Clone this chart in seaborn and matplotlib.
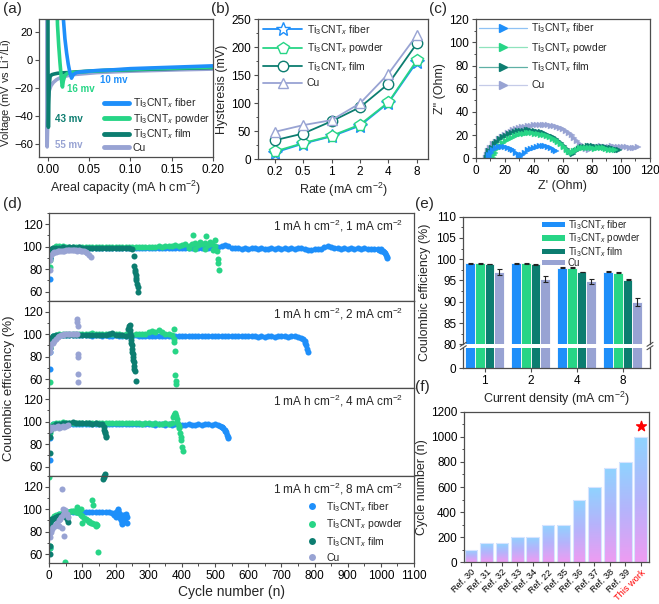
import numpy as np
import pandas as pd
import seaborn as sns
import matplotlib.pyplot as plt
from matplotlib.lines import Line2D
from matplotlib.patches import Patch
from matplotlib.ticker import AutoMinorLocator, FormatStrFormatter
from matplotlib.colors import LinearSegmentedColormap

# ---------------- data ----------------
LABELS = [r'Ti$_3$CNT$_x$ fiber', r'Ti$_3$CNT$_x$ powder', r'Ti$_3$CNT$_x$ film', 'Cu']

# (a) voltage profiles
a_fiber_x = [0.0175, 0.019, 0.021, 0.023, 0.025, 0.027, 0.0285, 0.029, 0.030, 0.032, 0.035, 0.04,
             0.05, 0.06, 0.08, 0.10, 0.12, 0.14, 0.16, 0.18, 0.20]
a_fiber_y = [60, 30, 15, 5, -3, -9, -12, -13, -11.5, -10, -9, -8.5, -8, -7.5, -7, -6.2, -5.8, -5.4, -5, -4.6, -4.2]
a_powder_x = [0.0105, 0.012, 0.0135, 0.015, 0.0165, 0.0175, 0.018, 0.019, 0.021, 0.024, 0.03, 0.04,
              0.06, 0.08, 0.10, 0.12, 0.14, 0.16, 0.18, 0.20]
a_powder_y = [60, 25, 10, -2, -12, -18, -19.3, -15, -11, -9.5, -9, -8.5, -7.8, -7.2, -6.8, -6.3, -6, -5.7, -5.4, -5]
a_film_x = [0.0005, 0.0005, 0.0007, 0.001, 0.0015, 0.002, 0.003, 0.005, 0.008, 0.012, 0.018, 0.025,
            0.035, 0.05, 0.07, 0.10, 0.13, 0.16, 0.20]
a_film_y = [60, 0, -30, -48, -30, -18, -12, -10.5, -10, -9.5, -9.2, -9, -8.5, -8, -7.5, -7, -6.5, -6, -5.5]
a_cu_x = [-0.0008, -0.0008, -0.0005, 0.0, 0.0005, 0.001, 0.002, 0.004, 0.007, 0.011, 0.016, 0.022,
          0.03, 0.04, 0.06, 0.08, 0.10, 0.13, 0.16, 0.20]
a_cu_y = [60, -55, -62, -50, -35, -27, -22, -18.5, -16, -14, -12.5, -11.5, -10.5, -10, -9, -8.5, -8, -7.5, -7, -6.5]

# (b) hysteresis vs rate
b_rates = ['0.2', '0.5', '1', '2', '4', '8']
b_fiber = [12, 28, 41, 60, 101, 174]
b_powder = [14, 29, 42, 62, 102, 177]
b_film = [34, 46, 68, 93, 135, 207]
b_cu = [49, 61, 70, 100, 153, 222]

# (c) Nyquist plots
c_fiber_x = [9, 9.5, 10.5, 12, 14, 16, 18, 20, 22, 24, 26, 28, 29.5, 30.8, 32, 34, 36, 38, 40, 42, 44, 46,
             48, 50, 52, 54, 55.5]
c_fiber_y = [1, 3, 5, 7, 8.5, 9.5, 10, 9.8, 9.2, 8.3, 7, 5, 3, 1.5, 3, 5, 6.8, 8.2, 9.2, 10, 10.5, 10.5,
             10.2, 9.5, 8.5, 7.5, 6.5]
c_powder_x = [12, 12.5, 13.5, 15, 17, 19, 21, 23, 25, 27, 29, 31, 33, 35, 37, 39, 41, 43, 45, 47, 49, 51, 53,
              55, 57, 59, 61, 63, 64.5, 66, 68, 70, 72, 74, 76, 78, 80, 82, 84, 86, 88, 90, 92, 94, 96]
c_powder_y = [0.5, 2.5, 5, 8, 11, 13, 15, 16.5, 17.8, 19, 20, 20.7, 21.2, 21.5, 21.6, 21.6, 21.4, 21, 20.5,
              19.8, 19, 18, 16.8, 15.5, 14, 12, 10, 7.5, 5.5, 4.5, 6, 7.5, 8.5, 9, 9.3, 9, 8.5, 8.2, 8.5, 9,
              8.7, 8, 7.5, 7.5, 7.2]
c_film_x = [8, 8.5, 9.5, 11, 13, 15, 17, 19, 21, 23, 25, 27, 29, 31, 33, 35, 37, 39, 41, 43, 45, 47, 49, 51,
            53, 55, 57, 59, 61, 63, 65, 67, 69, 71, 73, 75, 77, 79, 81, 83, 85, 87, 89, 91, 93, 95, 97, 99]
c_film_y = [0.5, 3, 6, 9, 12, 14.5, 16.5, 18, 19.5, 20.8, 21.8, 22.6, 23.2, 23.6, 23.9, 24, 24, 23.8, 23.5,
            23, 22.3, 21.5, 20.5, 19.3, 18, 16.5, 14.8, 12.8, 10.5, 8, 5.5, 4, 6, 8, 9.5, 10, 10.3, 10.5,
            10.3, 10, 10, 9.8, 9.5, 9, 8.5, 8, 7.5, 7]
c_cu_x = [7, 7.5, 8.5, 10, 12, 14, 16, 18, 20, 22, 24, 26, 28, 30, 32, 34, 36, 38, 40, 42, 44, 46, 48, 50,
          52, 54, 56, 58, 60, 62, 64, 66, 68, 70, 72, 74, 76, 78, 80, 82, 84, 86, 88, 90, 92, 94, 96, 98,
          100, 102, 104, 106, 108, 110, 112]
c_cu_y = [0.5, 3, 6, 9, 12, 14.5, 16.5, 18.5, 20, 21.5, 23, 24.2, 25.2, 26, 26.8, 27.4, 27.9, 28.3, 28.6,
          28.8, 28.9, 28.9, 28.8, 28.5, 28.1, 27.6, 27, 26, 25, 23.5, 22, 20, 17.5, 15, 12, 9.5, 8, 7.5,
          8.5, 9.5, 10, 10.2, 10, 9.8, 10, 10.2, 9.8, 9.5, 9.8, 10, 9.5, 9.2, 9, 9.3, 9.5]

# (d) coulombic efficiency vs cycle, panel 1: 1 mA cm-2
d1_fiber_x = [1, 2, 4, 6] + list(range(10, 1021, 10)) + [995, 1000, 1005, 1012, 1016, 1020]
d1_fiber_y = [71, 90, 95, 97,
              97.5, 98.0, 98.3, 98.5, 98.6, 98.7, 98.8, 98.8, 98.9, 98.9,
              99.0, 98.9, 99.0, 98.8, 99.0, 98.9, 99.1, 98.9, 99.0, 98.8,
              98.9, 99.0, 98.8, 98.7, 98.9, 99.0, 98.8, 98.9, 98.7, 98.8,
              98.9, 98.7, 98.8, 99.0, 98.6, 98.8, 98.7, 98.9, 98.6, 98.8,
              98.7, 98.9, 98.5, 98.8, 98.6, 98.7, 98.9, 98.5, 98.7, 98.6,
              99.5, 100.8, 101.5, 100.2, 99.0, 98.4, 98.6, 98.3, 98.5, 98.2,
              98.4, 98.6, 98.1, 98.5, 98.3, 97.8, 98.4, 98.2, 98.5, 98.3,
              98.4, 98.1, 98.5, 98.2, 98.4, 98.6, 98.1, 97.4, 96.8, 97.9,
              98.3, 98.1, 99.5, 100.5, 100.0, 98.6, 98.4, 98.2, 98.5, 98.3,
              98.4, 98.2, 98.5, 98.3, 98.4, 98.1, 98.3, 98.0, 97.8, 97.5,
              95.5, 91.0,
              97.0, 96.5, 96.0, 94.0, 92.5, 89.5]
d1_powder_x = [1, 2, 3, 5, 7] + list(range(10, 501, 10)) + [420, 440, 455, 470, 485, 495, 432, 474, 500,
                                                           505, 508, 510, 512]
d1_powder_y = [82, 88, 92, 95, 97,
               99.0, 100.5, 101.0, 100.2, 99.8, 99.5, 99.7, 99.4, 99.6, 99.5,
               99.5, 99.6, 99.4, 99.7, 99.5, 99.6, 99.4, 99.5, 99.6, 99.3,
               99.5, 99.4, 99.6, 99.5, 99.3, 99.6, 99.5, 99.8, 99.4, 99.6,
               99.7, 99.5, 100.2, 99.8, 100.5, 101.0, 100.4, 101.5, 100.8, 101.2,
               102.0, 101.0, 102.5, 103.0, 101.5, 102.2, 103.5, 101.8, 102.5, 101.0,
               98.5, 97.5, 104.0, 98.0, 104.5, 97.0, 110.5, 109.5, 105.5, 96, 89, 85, 79]
d1_film_x = [1, 2, 4, 6] + list(range(10, 251, 10)) + [254, 256, 258, 259, 260, 262, 263, 265, 267, 269]
d1_film_y = [90, 93, 96, 97.5,
             98.5, 99.0, 99.2, 99.3, 99.2, 99.4, 99.3, 99.2, 99.3, 99.1,
             99.2, 99.0, 99.1, 98.9, 99.0, 98.8, 98.9, 98.7, 98.8, 98.6,
             98.7, 98.5, 98.4, 98.6, 98.2,
             92, 83, 79, 77, 75, 72, 70, 67, 64, 60]
d1_cu_x = [1, 2, 3] + list(range(5, 126, 5))
d1_cu_y = [79, 88, 92,
           93.0, 94.0, 94.8, 95.3, 95.7, 96.0, 96.2, 96.4, 96.5, 96.6, 96.6, 96.7, 96.7,
           96.6, 96.7, 96.6, 96.5, 96.6, 96.4, 96.2, 95.8, 95.0, 94.0, 92.5, 91.0]

# panel 2: 2 mA cm-2
d2_fiber_x = [1, 2, 3, 5] + list(range(10, 771, 10)) + [765, 772, 775, 778, 780]
d2_fiber_y = [69, 84, 92, 96,
              98.5, 98.8, 99.0, 99.0, 99.1, 99.0, 99.0, 98.9, 99.0, 98.9,
              99.0, 98.9, 98.8, 99.0, 98.9, 98.8, 98.9, 98.7, 98.8, 98.9,
              98.7, 98.8, 98.6, 98.8, 98.7, 98.9, 98.6, 98.8, 98.7, 98.6,
              98.8, 98.6, 98.7, 98.5, 98.7, 98.6, 98.4, 98.7, 98.5, 98.6,
              98.5, 98.3, 98.6, 98.4, 98.5, 98.2, 98.4, 98.5, 98.3, 98.4,
              98.2, 98.4, 98.3, 98.1, 98.3, 98.2, 98.0, 98.3, 98.1, 98.2,
              98.0, 98.2, 97.9, 98.1, 97.6, 98.0, 98.1, 97.8, 98.2, 98.0,
              98.1, 97.9, 98.3, 98.0, 97.6, 96.5, 94.0,
              95.5, 92, 90, 87, 84]
d2_powder_x = [1, 3, 5] + list(range(10, 371, 10)) + [375, 376, 377, 378, 380, 382, 383]
d2_powder_y = [57, 88, 95,
               98.5, 99.5, 99.8, 100.0, 99.9, 100.0, 99.8, 99.9, 100.0, 99.7,
               99.9, 100.0, 101.2, 99.8, 99.9, 99.7, 100.0, 99.8, 99.9, 99.7,
               99.8, 99.6, 99.9, 99.7, 99.5, 100.2, 99.8, 99.9, 100.5, 101.5,
               103.0, 102.0, 103.5, 101.5, 100.5, 100.0, 99.5,
               105, 96, 93, 85, 64, 58, 56]
d2_film_x = [1, 2, 4] + list(range(10, 231, 10)) + [238, 240, 242, 243, 244, 245, 246, 247, 248, 249, 250,
                                                   251, 252, 253, 254, 255, 256, 258, 260]
d2_film_y = [88, 94, 97,
             98.5, 99.0, 99.2, 99.3, 99.4, 99.3, 99.5, 99.4, 99.3, 99.5,
             99.4, 99.3, 99.2, 99.5, 99.3, 99.4, 99.2, 100.5, 101.0, 99.5,
             99.2, 99.0, 98.8,
             105, 107, 108, 104, 101, 98, 95, 92, 90, 87, 84, 82, 80, 77, 75, 72, 69, 67, 58]
d2_cu_x = [1, 2, 3] + list(range(5, 86, 5)) + [84, 85, 86, 86, 87, 88, 88]
d2_cu_y = [84, 88, 90,
           91.5, 92.5, 94.0, 96.0, 97.5, 98.5, 99.0, 99.5, 100.0, 100.3, 100.0, 100.2, 100.0,
           100.4, 100.1, 100.2, 100.0,
           113.5, 110.5, 107.0, 82.5, 79.5, 64.5, 57.5]

# panel 3: 4 mA cm-2
d3_fiber_x = [1, 2, 4] + list(range(10, 531, 10)) + [515, 520, 525, 530, 533, 536, 538, 540]
d3_fiber_y = [66, 85, 95,
              97.5, 97.8, 98.0, 98.0, 98.1, 98.0, 98.2, 98.0, 98.1, 97.9,
              98.0, 97.9, 98.1, 97.8, 98.0, 97.9, 97.8, 98.0, 97.7, 97.9,
              97.8, 97.6, 97.9, 97.7, 97.8, 97.5, 97.7, 97.6, 97.8, 97.5,
              97.6, 97.4, 97.7, 97.5, 97.3, 97.6, 97.4, 97.5, 97.2, 97.4,
              97.3, 97.5, 97.2, 97.4, 97.6, 97.3, 97.5, 97.7, 97.4, 97.6,
              96.8, 95.0, 91.5,
              96.5, 95.5, 94.0, 92.5, 90.5, 88.5, 86.5, 85.0]
d3_powder_x = [1, 2, 4] + list(range(10, 371, 10)) + [374, 376, 378, 380, 382, 384, 386, 388, 390, 392,
                                                     394, 396, 398, 400, 402]
d3_powder_y = [90, 93, 96,
               97.5, 98.5, 99.0, 99.3, 99.0, 99.2, 98.9, 99.1, 98.8, 99.0,
               98.8, 98.9, 98.7, 98.9, 98.6, 98.8, 98.7, 98.9, 98.6, 98.8,
               98.7, 98.5, 98.8, 98.6, 98.4, 98.7, 98.5, 98.3, 98.6, 98.4,
               98.2, 98.5, 98.3, 98.0, 98.4, 97.8, 98.6,
               104, 106, 108, 107, 105, 102, 100, 98, 96, 94, 90, 86, 84, 77, 74]
d3_film_x = [1, 2, 3] + list(range(10, 161, 10)) + [164, 166, 167, 168, 170, 171]
d3_film_y = [72, 86, 92,
             96.5, 97.5, 98.0, 98.5, 98.8, 99.0, 99.5, 99.2, 98.8, 99.0,
             98.5, 98.8, 98.3, 98.6, 98.2, 97.5,
             95, 93, 91, 90, 87, 86]
d3_cu_x = [1, 2, 3] + list(range(5, 56, 5))
d3_cu_y = [93, 95, 94, 94.0, 95.5, 94.5, 95.0, 96.0, 94.5, 95.5, 96.5, 95.0, 96.0, 97.0]

# panel 4: 8 mA cm-2
d4_fiber_x = [1, 2, 3] + list(range(10, 231, 10)) + [196, 200, 203, 206, 208, 210, 212, 214, 216, 218, 220,
                                                    222, 225, 228, 230, 233, 235]
d4_fiber_y = [65, 80, 88,
              92, 94, 95.5, 96.5, 97, 97.5, 97.5, 97.8, 97.6, 97.8,
              97.5, 97.8, 97.4, 97.6, 97.3, 97.5, 97.2, 97.4, 97.0, 97.3,
              96.5, 95.0, 94.0,
              95, 93, 97, 99, 100.5, 96, 92, 95, 90, 88, 86.5, 93, 95, 91, 96, 93, 88]
d4_powder_x = [1, 2, 3, 4] + list(range(5, 146, 5)) + [0, 48, 83, 95, 100, 120, 130, 133, 140, 147]
d4_powder_y = [65, 67, 82, 90,
               91, 92.5, 93.5, 94.5, 95.0, 95.5, 96.0, 96.5, 96.8, 97.0,
               97.5, 97.8, 98.0, 98.2, 98.0, 97.8, 97.5, 96.5, 95.0, 94.0,
               92.5, 91.0, 90.0, 88.5, 87.5, 88.0, 87.0, 86.5, 86.0,
               129, 53, 102, 100, 88, 89, 108, 104, 85, 62]
d4_film_x = [1, 1, 2, 3] + list(range(5, 58, 4))
d4_film_y = [60, 67, 88, 90, 90.5, 91.0, 92.0, 92.5, 93.0, 93.5, 94.0, 93.0, 94.5, 95.0, 94.0, 93.0, 91.0, 88.5]
d4_film_out_x = [162, 164, 166, 167]
d4_film_out_y = [127, 128.5, 130, 131.5]
d4_cu_x = [1, 2] + list(range(4, 57, 4)) + [30, 38, 38, 40, 45]
d4_cu_y = [75, 79, 80, 82, 84, 85, 87, 88, 90, 91, 93, 95, 97, 99.5, 96, 93,
           85, 118, 83, 100, 76]

d_notes = [r'1 mA h cm$^{-2}$, 1 mA cm$^{-2}$', r'1 mA h cm$^{-2}$, 2 mA cm$^{-2}$',
           r'1 mA h cm$^{-2}$, 4 mA cm$^{-2}$', r'1 mA h cm$^{-2}$, 8 mA cm$^{-2}$']

# (e) average CE
e_density = ['1', '2', '4', '8']
e_fiber = [99.0, 99.0, 98.0, 97.1]
e_powder = [99.0, 99.0, 98.0, 96.8]
e_film = [98.9, 98.8, 97.0, 95.2]
e_cu = [97.0, 95.4, 94.8, 90.0]
e_fiber_err = [0.1, 0.1, 0.1, 0.1]
e_powder_err = [0.1, 0.1, 0.1, 0.1]
e_film_err = [0.05, 0.1, 0.05, 0.1]
e_cu_err = [0.8, 0.7, 0.6, 0.9]

# (f) comparison
f_refs = ['Ref. 30', 'Ref. 31', 'Ref. 32', 'Ref. 33', 'Ref. 34', 'Ref. 22', 'Ref. 35', 'Ref. 36',
          'Ref. 37', 'Ref. 38', 'Ref. 39', 'This work']
f_cycles = [100, 150, 150, 200, 200, 300, 300, 500, 600, 750, 800, 1000]

# ---------------- style ----------------
C_FIBER = '#1e8ffa'
C_POWDER = '#27d586'
C_FILM = '#0c7d70'
C_CU = '#98a3d3'
COLORS = [C_FIBER, C_POWDER, C_FILM, C_CU]
LIGHT = ['#8fc2f5', '#8fe3bd', '#5fb0a5', '#c5cbe8']

sns.set_theme(style='ticks')
plt.rcParams.update({
    'font.family': ['Liberation Sans', 'DejaVu Sans'],
    'mathtext.fontset': 'custom',
    'mathtext.rm': 'Liberation Sans',
    'mathtext.it': 'Liberation Sans:italic',
    'mathtext.bf': 'Liberation Sans:bold',
    'axes.edgecolor': '#4d4d4d',
    'axes.linewidth': 0.9,
    'axes.labelsize': 9,
    'axes.labelpad': 2,
    'xtick.labelsize': 8.5,
    'ytick.labelsize': 8.5,
    'xtick.color': '#4d4d4d',
    'ytick.color': '#4d4d4d',
    'xtick.labelcolor': 'black',
    'ytick.labelcolor': 'black',
    'xtick.major.size': 3, 'ytick.major.size': 3,
    'xtick.minor.size': 1.8, 'ytick.minor.size': 1.8,
    'xtick.major.width': 0.8, 'ytick.major.width': 0.8,
    'xtick.minor.width': 0.7, 'ytick.minor.width': 0.7,
    'xtick.major.pad': 2, 'ytick.major.pad': 2,
    'legend.fontsize': 7.5,
})

W, H = 659, 604


def box(l, t, r, b):
    return [l / W, 1 - b / H, (r - l) / W, (b - t) / H]


fig = plt.figure(figsize=(W / 100, H / 100), dpi=100)

for lab, px, py in [('(a)', 3, 2), ('(b)', 211, 2), ('(c)', 429, 2),
                    ('(d)', 3, 197), ('(e)', 415, 197), ('(f)', 415, 380)]:
    fig.text(px / W, 1 - py / H, lab, fontsize=11, ha='left', va='top')

# ---------------- (a) ----------------
ax = fig.add_axes(box(39.3, 19.3, 213, 156.7))
for x, y, c in [(a_cu_x, a_cu_y, C_CU), (a_film_x, a_film_y, C_FILM),
                (a_powder_x, a_powder_y, C_POWDER), (a_fiber_x, a_fiber_y, C_FIBER)]:
    sns.lineplot(x=x, y=y, sort=False, estimator=None, color=c, lw=2.6, ax=ax, legend=False)
ax.set_xlim(-0.01, 0.2)
ax.set_ylim(-69, 29)
ax.set_xticks([0, 0.05, 0.10, 0.15, 0.20])
ax.xaxis.set_major_formatter(FormatStrFormatter('%.2f'))
ax.set_yticks([-60, -40, -20, 0, 20])
ax.tick_params(axis='y', labelsize=8, pad=1.5)
ax.set_xlabel(r'Areal capacity (mA h cm$^{-2}$)')
ax.set_ylabel(r'Voltage (mV vs Li$^{+}$/Li)', fontsize=8)
ax.yaxis.set_label_coords(-0.141, 0.47)
for txt, x, y, c in [('10 mv', 0.063, -14.5, C_FIBER), ('16 mv', 0.023, -20.5, C_POWDER),
                     ('43 mv', 0.009, -42, C_FILM), ('55 mv', 0.009, -60.5, C_CU)]:
    ax.text(x, y, txt, color=c, fontsize=7, fontweight='bold', va='center')
handles = [Line2D([0], [0], color=c, lw=3.5) for c in COLORS]
ax.legend(handles, LABELS, loc='upper left', bbox_to_anchor=(0.37, 0.44), frameon=False,
          borderaxespad=0, borderpad=0, handlelength=2.4, handletextpad=0.4, labelspacing=0.15)

# ---------------- (b) ----------------
ax = fig.add_axes(box(257.7, 19.3, 428.3, 159.3))
pos = list(range(len(b_rates)))
for y, c, m, ms in [(b_fiber, C_FIBER, '*', 10), (b_powder, C_POWDER, 'p', 8.5),
                    (b_film, C_FILM, 'o', 7.5), (b_cu, C_CU, '^', 7.5)]:
    sns.lineplot(x=pos, y=y, color=c, lw=1.3, marker=m, markersize=ms, markerfacecolor='white',
                 markeredgecolor=c, markeredgewidth=1, ax=ax, legend=False)
ax.set_xlim(-0.6, 5.4)
ax.set_ylim(0, 250)
ax.set_xticks(pos)
ax.set_xticklabels(b_rates)
ax.yaxis.set_minor_locator(AutoMinorLocator(2))
ax.set_xlabel(r'Rate (mA cm$^{-2}$)')
ax.set_ylabel('Hysteresis (mV)')
handles = [Line2D([0], [0], color=c, lw=1.3, marker=m, markersize=ms, markerfacecolor='white',
                  markeredgecolor=c)
           for c, m, ms in [(C_FIBER, '*', 10), (C_POWDER, 'p', 8.5), (C_FILM, 'o', 7.5), (C_CU, '^', 7.5)]]
ax.legend(handles, LABELS, loc='upper left', bbox_to_anchor=(0.03, 0.975), frameon=False,
          borderaxespad=0, borderpad=0, handlelength=3.8, handletextpad=0.4, labelspacing=0.45)

# ---------------- (c) ----------------
ax = fig.add_axes(box(475.7, 19.3, 650, 158.3))
for x, y, c, lc in [(c_cu_x, c_cu_y, C_CU, LIGHT[3]), (c_film_x, c_film_y, C_FILM, LIGHT[2]),
                    (c_powder_x, c_powder_y, C_POWDER, LIGHT[1]), (c_fiber_x, c_fiber_y, C_FIBER, LIGHT[0])]:
    sns.lineplot(x=x, y=y, sort=False, estimator=None, color=lc, lw=0.9, marker='>', markersize=4.5,
                 markerfacecolor=c, markeredgecolor=c, markeredgewidth=0.3, ax=ax, legend=False)
ax.set_xlim(0, 120)
ax.set_ylim(0, 120)
ax.set_xticks(range(0, 121, 20))
ax.set_yticks(range(0, 121, 20))
ax.xaxis.set_minor_locator(AutoMinorLocator(2))
ax.yaxis.set_minor_locator(AutoMinorLocator(2))
ax.set_xlabel("Z' (Ohm)")
ax.set_ylabel('Z" (Ohm)')
handles = [Line2D([0], [0], color=lc, lw=0.9, marker='>', markersize=6, markerfacecolor=c, markeredgecolor=c)
           for c, lc in zip(COLORS, LIGHT)]
ax.legend(handles, LABELS, loc='upper left', bbox_to_anchor=(0.02, 0.985), frameon=False,
          borderaxespad=0, borderpad=0, handlelength=4.6, handletextpad=0.4, labelspacing=0.55)

# ---------------- (d) ----------------
d_sets = [
    [(d1_fiber_x, d1_fiber_y), (d1_powder_x, d1_powder_y), (d1_film_x, d1_film_y), (d1_cu_x, d1_cu_y)],
    [(d2_fiber_x, d2_fiber_y), (d2_powder_x, d2_powder_y), (d2_film_x, d2_film_y), (d2_cu_x, d2_cu_y)],
    [(d3_fiber_x, d3_fiber_y), (d3_powder_x, d3_powder_y), (d3_film_x, d3_film_y), (d3_cu_x, d3_cu_y)],
    [(d4_fiber_x, d4_fiber_y), (d4_powder_x, d4_powder_y), (d4_film_x, d4_film_y), (d4_cu_x, d4_cu_y)],
]
d_top, d_h = 213, 87.5
for i, series in enumerate(d_sets):
    ax = fig.add_axes(box(49.3, d_top + i * d_h, 414, d_top + (i + 1) * d_h))
    for (xs, ys), c in zip(series, COLORS):
        n = min(len(xs), len(ys))
        sns.scatterplot(x=xs[:n], y=ys[:n], color=c, s=19, linewidth=0, ax=ax, legend=False)
    if i == 3:
        sns.scatterplot(x=d4_film_out_x, y=d4_film_out_y, color=C_FILM, s=19, linewidth=0, ax=ax,
                        legend=False, clip_on=False)
    ax.set_xlim(0, 1100)
    ax.set_ylim(52, 130)
    ax.set_yticks([60, 80, 100, 120])
    ax.yaxis.set_minor_locator(AutoMinorLocator(2))
    ax.text(0.97, 0.85, d_notes[i], transform=ax.transAxes, ha='right', va='center', fontsize=8.5)
    if i < 3:
        ax.tick_params(axis='x', which='both', bottom=False, labelbottom=False)
    else:
        ax.set_xticks(range(0, 1101, 100))
        ax.xaxis.set_minor_locator(AutoMinorLocator(2))
        ax.set_xlabel('Cycle number (n)', fontsize=10)
        handles = [Line2D([0], [0], ls='none', marker='o', markersize=5, markerfacecolor=c,
                          markeredgewidth=0) for c in COLORS]
        ax.legend(handles, LABELS, loc='upper left', bbox_to_anchor=(0.705, 0.72), frameon=False,
                  borderaxespad=0, borderpad=0, handlelength=1.0, handletextpad=0.9, labelspacing=0.35)
fig.text(9 / W, 1 - 388 / H, 'Coulombic efficiency (%)', rotation=90, ha='center', va='center', fontsize=9.5)

# ---------------- (e) ----------------
mats = ['fiber', 'powder', 'film', 'Cu']
df_e = pd.DataFrame({
    'density': e_density * 4,
    'material': np.repeat(mats, len(e_density)),
    'ce': e_fiber + e_powder + e_film + e_cu,
})
errs = [e_fiber_err, e_powder_err, e_film_err, e_cu_err]
vals = [e_fiber, e_powder, e_film, e_cu]
bw = 0.84
ax_up = fig.add_axes(box(463.3, 216.7, 650, 344.3))
ax_lo = fig.add_axes(box(463.3, 347.7, 650, 368.3))
for ax in (ax_up, ax_lo):
    sns.barplot(data=df_e, x='density', y='ce', hue='material', hue_order=mats, palette=COLORS,
                width=bw, saturation=1, errorbar=None, edgecolor='white', linewidth=0.6,
                legend=False, ax=ax)
    ax.set_xlim(-0.46, 3.59)
    ax.set_xlabel('')
    ax.set_ylabel('')
for h in range(4):
    xs = np.arange(4) - bw / 2 + (h + 0.5) * bw / 4
    ax_up.errorbar(xs, vals[h], yerr=errs[h], fmt='none', ecolor='#222222', elinewidth=0.8,
                   capsize=1.8, capthick=0.8)
ax_up.set_ylim(80, 110)
ax_up.set_yticks(range(80, 111, 5))
ax_up.yaxis.set_minor_locator(AutoMinorLocator(2))
ax_up.spines['bottom'].set_visible(False)
ax_up.tick_params(axis='x', which='both', bottom=False, labelbottom=False)
ax_lo.set_ylim(0, 5)
ax_lo.set_yticks([0])
ax_lo.spines['top'].set_visible(False)
ax_lo.set_xlabel(r'Current density (mA cm$^{-2}$)')
for xp in (463.3, 650):
    for yp in (344.3, 347.7):
        fig.add_artist(Line2D([(xp - 3) / W, (xp + 3) / W], [1 - (yp + 2) / H, 1 - (yp - 2) / H],
                              color='#4d4d4d', lw=0.8, transform=fig.transFigure))
handles = [Patch(facecolor=c, edgecolor='none') for c in COLORS]
ax_up.legend(handles, LABELS, loc='upper left', bbox_to_anchor=(0.42, 0.99), frameon=False,
             borderaxespad=0, borderpad=0, handlelength=2.4, handleheight=0.5, handletextpad=0.3,
             labelspacing=-0.05, fontsize=7)
fig.text(425 / W, 1 - 292 / H, 'Coulombic efficiency (%)', rotation=90, ha='center', va='center', fontsize=9)

# ---------------- (f) ----------------
ax = fig.add_axes(box(464, 411.7, 649.3, 562.3))
sns.barplot(x=f_refs, y=f_cycles, color='#b0c8ff', width=0.82, saturation=1, ax=ax)
grad = LinearSegmentedColormap.from_list('pinkblue', ['#ee9cf2', '#b6b3fb', '#8ed4ff'])
gimg = np.linspace(0, 1, 256).reshape(-1, 1)
for p in list(ax.patches):
    x0, w, hgt = p.get_x(), p.get_width(), p.get_height()
    im = ax.imshow(gimg, cmap=grad, origin='lower', aspect='auto', extent=[x0, x0 + w, 0, hgt], zorder=1)
    im.set_clip_path(p)
    p.set_facecolor('none')
    p.set_edgecolor('#d6e4ff')
    p.set_linewidth(0.8)
    p.set_zorder(2)
ax.scatter([len(f_refs) - 1], [1085], marker='*', color='red', s=55, zorder=3)
ax.set_xlim(-0.45, 11.55)
ax.set_ylim(0, 1200)
ax.set_yticks(range(0, 1201, 200))
ax.yaxis.set_minor_locator(AutoMinorLocator(2))
ax.set_xticks(range(len(f_refs)))
ax.set_xticklabels(f_refs, rotation=45, ha='right', rotation_mode='anchor', fontsize=6.6)
ax.tick_params(axis='x', pad=1)
ax.get_xticklabels()[-1].set_color('red')
ax.set_ylabel('Cycle number (n)')

fig.savefig('out.png', dpi=100)
